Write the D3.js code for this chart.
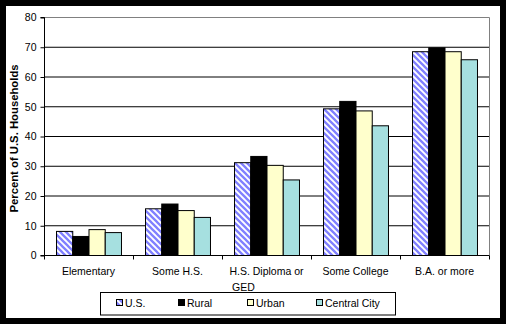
<!DOCTYPE html>
<html>
<head>
<meta charset="utf-8">
<script src="https://cdn.jsdelivr.net/npm/d3@7/dist/d3.min.js"></script>
<style>
  html, body { margin: 0; padding: 0; background: #000; }
  svg { display: block; }
  text { font-family: "Liberation Sans", Arial, sans-serif; }
</style>
</head>
<body>
<svg id="chart" width="506" height="324"></svg>
<script>
// Share of households by education level of householder
const categories = ["Elementary", "Some H.S.", "H.S. Diploma or GED", "Some College", "B.A. or more"];
const seriesNames = ["U.S.", "Rural", "Urban", "Central City"];
const usValues      = [8.1, 15.7, 31.2, 49.3, 68.5];
const ruralValues   = [6.4, 17.3, 33.3, 51.8, 69.8];
const urbanValues   = [8.7, 15.1, 30.3, 48.6, 68.5];
const centralValues = [7.7, 12.8, 25.4, 43.6, 65.8];
const yTicks = [0, 10, 20, 30, 40, 50, 60, 70, 80];

const seriesValues = [usValues, ruralValues, urbanValues, centralValues];
const fills = ["url(#hatch)", "#000000", "#FFFFCC", "#A6E0E0"];

const svg = d3.select("#chart");

// white panel inside the black frame
svg.append("rect").attr("x", 6).attr("y", 6).attr("width", 494).attr("height", 312).attr("fill", "#fff");

// diagonal hatch for the U.S. series
const defs = svg.append("defs");
const pat = defs.append("pattern")
  .attr("id", "hatch").attr("patternUnits", "userSpaceOnUse")
  .attr("width", 6).attr("height", 6);
pat.append("rect").attr("width", 6).attr("height", 6).attr("fill", "#fff");
pat.append("path")
  .attr("d", "M-1.5,-1.5 L7.5,7.5 M-1.5,4.5 L1.5,7.5 M4.5,-1.5 L7.5,1.5")
  .attr("stroke", "#8080FF").attr("stroke-width", 2.3);

const plot = { left: 44, right: 489, top: 17, bottom: 255 };

const x0 = d3.scaleBand().domain(categories).range([plot.left, plot.right]).paddingInner(0).paddingOuter(0);
const bandW = x0.bandwidth();
const groupPad = bandW * 0.135;
const x1 = d3.scaleBand().domain(seriesNames).range([groupPad, bandW - groupPad]).padding(0);
const y = d3.scaleLinear().domain([0, 80]).range([plot.bottom, plot.top]);

// gridlines
svg.append("g").selectAll("line")
  .data(yTicks.filter(t => t > 0 && t < 80))
  .join("line")
  .attr("x1", plot.left).attr("x2", plot.right)
  .attr("y1", d => y(d) + 0.5).attr("y2", d => y(d) + 0.5)
  .attr("stroke", "#000").attr("stroke-width", 1);

// plot border (top and right in grey)
svg.append("path")
  .attr("d", `M${plot.left},${y(80) + 0.5} H${plot.right + 0.5} V${plot.bottom}`)
  .attr("fill", "none").attr("stroke", "#808080").attr("stroke-width", 1);

// bars
const groups = svg.append("g").selectAll("g")
  .data(categories)
  .join("g")
  .attr("transform", d => `translate(${x0(d)},0)`);

groups.selectAll("rect")
  .data((d, i) => seriesNames.map((s, k) => ({ s, k, v: seriesValues[k][i] })))
  .join("rect")
  .attr("x", d => x1(d.s) + 0.5)
  .attr("y", d => y(d.v) + 0.5)
  .attr("width", x1.bandwidth())
  .attr("height", d => y(0) - y(d.v))
  .attr("fill", d => fills[d.k])
  .attr("stroke", "#000").attr("stroke-width", 1);

// y axis
const yAxis = d3.axisLeft(y).tickValues(yTicks).tickSize(4).tickPadding(4).tickFormat(d3.format("d"));
const gy = svg.append("g").attr("transform", `translate(${plot.left + 0.5},0.5)`).call(yAxis);
gy.select(".domain").attr("d", `M-4,${y(80)}H0V${y(0)}H-4`).attr("stroke", "#000");
gy.selectAll(".tick line").attr("stroke", "#000");
gy.selectAll(".tick text").attr("font-size", "10.5px").attr("fill", "#000")
  .attr("font-family", "'Liberation Sans', Arial, sans-serif");

// x axis
const xAxis = d3.axisBottom(x0).tickSize(0).tickFormat("");
const gx = svg.append("g").attr("transform", `translate(0,${plot.bottom + 0.5})`).call(xAxis);
gx.select(".domain").attr("stroke", "#000").attr("d", `M${plot.left},0H${plot.right + 0.5}`);
// category boundary ticks
const bounds = categories.map(c => x0(c)).concat([plot.right]);
gx.selectAll(".bound").data(bounds).join("line")
  .attr("class", "bound")
  .attr("x1", d => Math.round(d) + 0.5).attr("x2", d => Math.round(d) + 0.5)
  .attr("y1", 0).attr("y2", 4).attr("stroke", "#000");

// category labels (the long one wraps onto two lines)
const catLabels = svg.append("g");
categories.forEach(c => {
  const cx = x0(c) + bandW / 2;
  if (c === "H.S. Diploma or GED") {
    catLabels.append("text").attr("font-size", "10.5px").attr("fill", "#000")
      .attr("x", cx).attr("y", 275).attr("text-anchor", "middle").text("H.S. Diploma or");
    catLabels.append("text").attr("font-size", "10.5px").attr("fill", "#000")
      .attr("x", x0(c) + 10).attr("y", 291).text("GED");
  } else {
    catLabels.append("text").attr("font-size", "10.5px").attr("fill", "#000")
      .attr("x", cx).attr("y", 275).attr("text-anchor", "middle").text(c);
  }
});

// y axis title
svg.append("text")
  .attr("transform", `translate(17.5,138.5) rotate(-90)`)
  .attr("text-anchor", "middle")
  .attr("font-size", "11.3px").attr("font-weight", "bold").attr("fill", "#000")
  .text("Percent of U.S. Households");

// legend
const legend = svg.append("g");
legend.append("rect").attr("x", 100.5).attr("y", 292.5).attr("width", 295).attr("height", 22.5)
  .attr("fill", "#fff").attr("stroke", "#000");
const legendX = [116, 178, 247, 316];
seriesNames.forEach((s, k) => {
  legend.append("rect")
    .attr("x", legendX[k] + 0.5).attr("y", 299.5).attr("width", 6).attr("height", 6)
    .attr("fill", fills[k]).attr("stroke", "#000");
  legend.append("text")
    .attr("x", legendX[k] + 9).attr("y", 307)
    .attr("font-size", "10.5px").attr("fill", "#000").text(s);
});
</script>
</body>
</html>
